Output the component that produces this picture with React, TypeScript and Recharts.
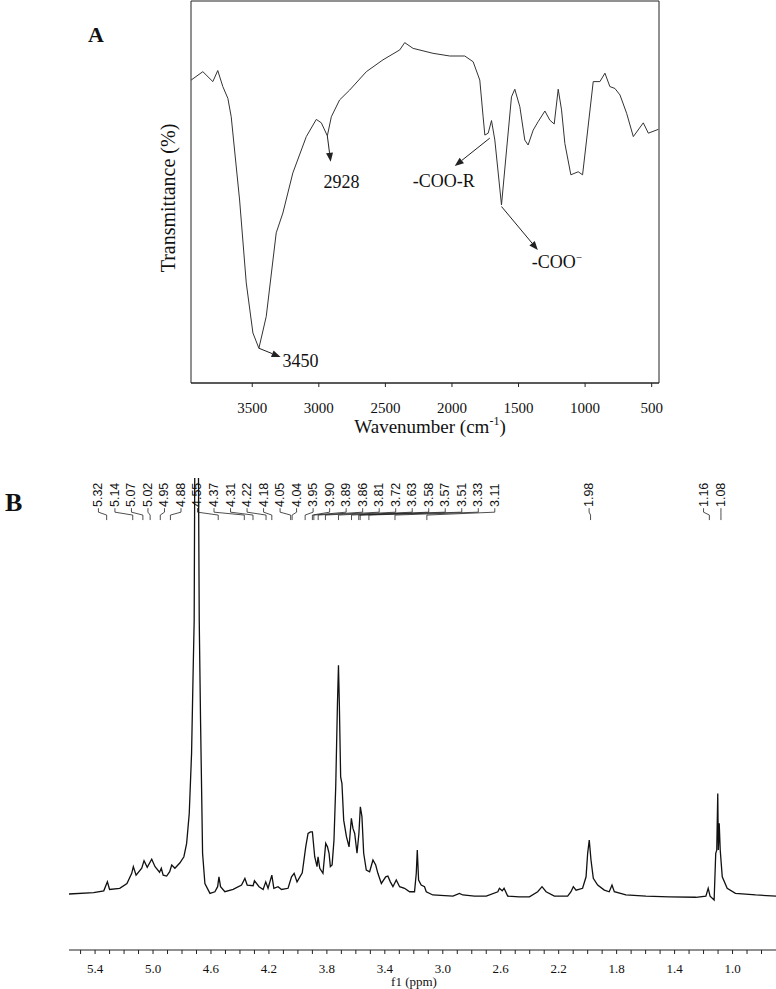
import React from "react";
import { LineChart, Line, XAxis, YAxis, ReferenceArea, ReferenceLine, ReferenceDot } from "recharts";

const serif = '"Liberation Serif", "Times New Roman", serif';
const sans = '"Liberation Sans", Arial, sans-serif';

// ---- panel A: FTIR ----
const ftirWavenumber = [
  3959, 3871, 3796, 3759, 3721, 3683, 3658, 3595, 3545, 3495,
  3450, 3395, 3320, 3270, 3195, 3094, 3019, 2981, 2936, 2906,
  2844, 2768, 2643, 2518, 2392, 2355, 2292, 2142, 2016, 1904,
  1841, 1791, 1766, 1753, 1728, 1703, 1678, 1628, 1590, 1553,
  1528, 1490, 1453, 1428, 1390, 1353, 1302, 1265, 1232, 1202,
  1177, 1152, 1107, 1052, 1019, 989, 939, 889, 851, 814,
  776, 738, 688, 638, 563, 525, 450,
];
const ftirTransmittance = [
  79.3, 81.5, 78.9, 81.8, 77.6, 74.5, 69.7, 47.9, 26.2, 13.1,
  9.1, 17.4, 39.3, 44.5, 55.0, 64.5, 69.0, 68.1, 64.7, 69.7,
  74.1, 76.7, 81.5, 84.6, 87.2, 89.1, 87.6, 86.3, 85.6, 85.6,
  84.1, 79.3, 69.7, 64.9, 65.4, 68.7, 63.6, 46.6, 61.0, 74.9,
  76.9, 72.3, 63.6, 62.3, 66.2, 68.4, 71.2, 68.8, 67.8, 76.9,
  71.5, 62.7, 54.5, 55.3, 54.5, 63.6, 78.9, 78.9, 81.1, 77.6,
  77.1, 75.4, 70.6, 64.5, 68.1, 65.4, 66.4,
];
const ftirTicks = [3500, 3000, 2500, 2000, 1500, 1000, 500];

// annotation arrows (from the band to its label), in axis units
const ftirArrows = [
  { from: [3450, 9.1], to: [3287, 6.8] },
  { from: [2936, 64.7], to: [2911, 57.9] },
  { from: [1716, 64.1], to: [1979, 56.8] },
  { from: [1628, 46.2], to: [1355, 34.8] },
];
const ftirNotes = [
  { text: "3450", sup: "", at: [3272, 4.2], anchor: "start" },
  { text: "2928", sup: "", at: [2829, 51.0], anchor: "middle" },
  { text: "-COO-R", sup: "", at: [2062, 51.3], anchor: "middle" },
  { text: "-COO", sup: "\u2212", at: [1400, 30.1], anchor: "start" },
];

// ---- panel B: 1H NMR ----
const nmrPpm = [
  5.584, 5.41, 5.34, 5.315, 5.3, 5.23, 5.18, 5.147, 5.136, 5.117,
  5.078, 5.062, 5.04, 5.009, 4.986, 4.955, 4.943, 4.93, 4.906, 4.885,
  4.871, 4.849, 4.814, 4.787, 4.768, 4.75, 4.734, 4.723, 4.716, 4.708,
  4.7, 4.692, 4.681, 4.672, 4.658, 4.642, 4.607, 4.573, 4.554, 4.545,
  4.534, 4.504, 4.447, 4.389, 4.366, 4.35, 4.309, 4.3, 4.268, 4.24,
  4.222, 4.206, 4.18, 4.166, 4.137, 4.113, 4.068, 4.044, 4.026, 4.006,
  3.97, 3.946, 3.93, 3.913, 3.9, 3.884, 3.868, 3.861, 3.849, 3.827,
  3.808, 3.796, 3.785, 3.776, 3.764, 3.751, 3.739, 3.727, 3.72, 3.714,
  3.705, 3.696, 3.684, 3.665, 3.647, 3.631, 3.62, 3.608, 3.592, 3.579,
  3.569, 3.558, 3.546, 3.528, 3.505, 3.482, 3.463, 3.448, 3.424, 3.394,
  3.379, 3.362, 3.344, 3.321, 3.298, 3.264, 3.229, 3.195, 3.183, 3.176,
  3.167, 3.149, 3.126, 3.114, 3.069, 2.93, 2.885, 2.862, 2.781, 2.7,
  2.62, 2.609, 2.59, 2.577, 2.552, 2.471, 2.402, 2.345, 2.315, 2.287,
  2.23, 2.138, 2.115, 2.099, 2.08, 2.035, 2.011, 2.0, 1.989, 1.977,
  1.961, 1.931, 1.885, 1.851, 1.832, 1.816, 1.736, 1.598, 1.437, 1.253,
  1.184, 1.168, 1.155, 1.127, 1.116, 1.109, 1.102, 1.098, 1.092, 1.085,
  1.071, 1.037, 0.98, 0.84, 0.7,
];
const nmrIntensity = [
  0.3, 0.9, 1.7, 5.6, 2.3, 2.8, 4.9, 9.3, 12.2, 8.5,
  11.5, 14.8, 11.9, 15.4, 12.2, 9.8, 11.5, 8.5, 8.1, 10.0,
  12.9, 11.5, 13.9, 16.5, 22.3, 35.3, 61.4, 97.5, 119, 250,
  400, 250, 119, 75.8, 18, 4.9, 0.6, 1.3, 3.5, 7.8,
  3.5, 1.3, 2.3, 4.2, 7.1, 4.2, 3.9, 6.1, 3.5, 2.3,
  5.6, 2.8, 8.5, 2.8, 3.5, 2.3, 2.8, 7.8, 9.3, 5.6,
  9.5, 20.8, 26.6, 27.3, 27.3, 16.5, 12.2, 16.5, 11.5, 9.3,
  22.3, 20.8, 18, 12.2, 12.9, 23.7, 46.9, 83.1, 99.7, 83.1,
  51.2, 48.3, 32.4, 25.2, 20.8, 33.2, 28.8, 26.6, 18, 26.6,
  38.2, 33.9, 18, 10.7, 10, 15.1, 12.9, 9.3, 4.9, 7.8,
  8.1, 5.6, 3.5, 6.4, 3.5, 2.8, 1.3, 1.3, 9.3, 19.4,
  6.4, 4.2, 3.5, 1.3, -0.1, -0.6, 0.6, -0.1, -0.6, -0.6,
  1.3, 2.8, 1.7, 2.8, -0.6, -0.9, -0.9, 1.3, 3.5, 1.3,
  -0.6, -0.6, 1.3, 3.5, 2.0, 2.8, 7.8, 18, 23.7, 15.1,
  7.1, 4.2, 2.0, 1.3, 4.2, 1.3, -0.1, -0.6, -0.9, -1.1,
  -0.6, 2.8, -0.6, -2.3, 18, 19.4, 44, 19.4, 31, 19.4,
  7.8, 2.8, 0.6, -0.1, -0.6,
];
const nmrTicks = [
  5.5, 5.4, 5.3, 5.2, 5.1, 5.0, 4.9, 4.8, 4.7, 4.6, 4.5, 4.4, 4.3, 4.2, 4.1, 4.0,
  3.9, 3.8, 3.7, 3.6, 3.5, 3.4, 3.3, 3.2, 3.1, 3.0, 2.9, 2.8, 2.7, 2.6, 2.5, 2.4,
  2.3, 2.2, 2.1, 2.0, 1.9, 1.8, 1.7, 1.6, 1.5, 1.4, 1.3, 1.2, 1.1, 1.0, 0.9, 0.8,
];
const nmrTickLabels = ["5.4", "5.0", "4.6", "4.2", "3.8", "3.4", "3.0", "2.6", "2.2", "1.8", "1.4", "1.0"];

// peak picking labels: a fanned block and three single ones
const nmrFanLabels = [
  "5.32", "5.14", "5.07", "5.02", "4.95", "4.88", "4.55", "4.37", "4.31", "4.22", "4.18", "4.05", "4.04",
  "3.95", "3.90", "3.89", "3.86", "3.81", "3.72", "3.63", "3.58", "3.57", "3.51", "3.33", "3.11",
];
const nmrSingleLabels = ["1.98", "1.16", "1.08"];
const nmrSingleCols = [1.99, 1.2, 1.08];

const ftirData = ftirWavenumber.map((wn, i) => ({ wn, t: ftirTransmittance[i] }));
const nmrData = nmrPpm.map((ppm, i) => ({ ppm, v: nmrIntensity[i] }));

// fan columns: evenly spread along the top, from left to right
const fanStart = 5.377;
const fanStep = 0.114;
const peakLabels = [
  ...nmrFanLabels.map((t, i) => ({ text: t, col: fanStart - i * fanStep, shift: parseFloat(t) })),
  ...nmrSingleLabels.map((t, i) => ({ text: t, col: nmrSingleCols[i], shift: parseFloat(t) })),
];
const LABEL_V = 168.4;
const ELBOW_V = 164.9;

const Arrow = (p: any) => {
  const { x1, y1, x2, y2 } = p;
  const dx = x2 - x1;
  const dy = y2 - y1;
  const len = Math.hypot(dx, dy) || 1;
  const ux = dx / len;
  const uy = dy / len;
  const hl = 9;
  const hw = 3.5;
  const bx = x2 - ux * hl;
  const by = y2 - uy * hl;
  const pts = `${x2},${y2} ${bx - uy * hw},${by + ux * hw} ${bx + uy * hw},${by - ux * hw}`;
  return (
    <g>
      <line x1={x1} y1={y1} x2={bx} y2={by} stroke="#222" strokeWidth={1} />
      <polygon points={pts} fill="#222" />
    </g>
  );
};

const Connector = (p: any) => {
  const { x1, y1, x2, y2 } = p;
  const d = `M${x1},${y1} L${x1},${y1 + 4} L${x2},${y2} L${x2},${y2 + 5}`;
  return <path d={d} fill="none" stroke="#222" strokeWidth={0.8} />;
};

export default function App() {
  return (
    <div style={{ position: "absolute", left: 0, top: 0, width: 776, height: 989, overflow: "hidden", background: "#fff" }}>
      <div style={{ position: "absolute", left: 0, top: 0 }}>
        <LineChart width={776} height={450} data={ftirData} margin={{ top: 1, right: 117, bottom: 0, left: 151 }}>
          <XAxis
            type="number"
            dataKey="wn"
            domain={[445, 3960]}
            reversed
            allowDataOverflow
            ticks={ftirTicks}
            interval={0}
            height={67}
            tickSize={4}
            tickMargin={15}
            stroke="#222"
            tick={{ fontSize: 15, fontFamily: serif, fill: "#111" }}
          />
          <YAxis type="number" domain={[0, 100]} width={40} tick={false} axisLine={false} tickLine={false} allowDataOverflow />
          <ReferenceArea x1={445} x2={3960} y1={0} y2={100} fill="none" stroke="#222" strokeWidth={1} ifOverflow="visible" />
          <Line dataKey="t" type="linear" stroke="#333" strokeWidth={1} dot={false} activeDot={false} isAnimationActive={false} />
          {ftirArrows.map((a, i) => (
            <ReferenceLine
              key={"arr" + i}
              segment={[{ x: a.from[0], y: a.from[1] }, { x: a.to[0], y: a.to[1] }]}
              ifOverflow="visible"
              shape={Arrow}
            />
          ))}
          {ftirNotes.map((n, i) => (
            <ReferenceDot
              key={"note" + i}
              x={n.at[0]}
              y={n.at[1]}
              ifOverflow="visible"
              shape={(p: any) => (
                <text x={p.cx} y={p.cy} textAnchor={n.anchor as any} fontSize={18} fontFamily={serif} fill="#111">
                  {n.text}
                  {n.sup ? (
                    <tspan dy={-7} fontSize={11}>
                      {n.sup}
                    </tspan>
                  ) : null}
                </text>
              )}
            />
          ))}
        </LineChart>
      </div>

      <div style={{ position: "absolute", left: 0, top: 460 }}>
        <LineChart width={776} height={529} data={nmrData} margin={{ top: 18, right: 0, bottom: 0, left: 69 }}>
          <XAxis
            type="number"
            dataKey="ppm"
            domain={[0.7, 5.58]}
            reversed
            allowDataOverflow
            ticks={nmrTicks}
            interval={0}
            height={39}
            tickSize={4}
            tickMargin={10}
            stroke="#222"
            tickFormatter={(v: number) => (nmrTickLabels.includes(v.toFixed(1)) ? v.toFixed(1) : "")}
            tick={{ fontSize: 13, fontFamily: serif, fill: "#111" }}
          />
          <YAxis hide type="number" domain={[-24, 181]} allowDataOverflow />
          <Line dataKey="v" type="linear" stroke="#111" strokeWidth={1.3} dot={false} activeDot={false} isAnimationActive={false} />
          {peakLabels.map((l, i) => (
            <ReferenceLine
              key={"con" + i}
              segment={[{ x: l.col, y: LABEL_V - 0.5 }, { x: l.shift, y: ELBOW_V }]}
              ifOverflow="visible"
              shape={Connector}
            />
          ))}
          {peakLabels.map((l, i) => (
            <ReferenceDot
              key={"lab" + i}
              x={l.col}
              y={LABEL_V}
              ifOverflow="visible"
              shape={(p: any) => (
                <text
                  x={p.cx}
                  y={p.cy}
                  transform={`rotate(-90 ${p.cx} ${p.cy})`}
                  textAnchor="start"
                  dominantBaseline="central"
                  fontSize={12.5}
                  fontFamily={sans}
                  fill="#111"
                >
                  {l.text}
                </text>
              )}
            />
          ))}
        </LineChart>
      </div>

      <svg width={776} height={989} style={{ position: "absolute", left: 0, top: 0, pointerEvents: "none" }}>
        <text x={88} y={42} fontSize={22} fontWeight="bold" fontFamily={serif} fill="#111">A</text>
        <text x={5} y={511} fontSize={26} fontWeight="bold" fontFamily={serif} fill="#111">B</text>
        <text
          x={175}
          y={198}
          transform="rotate(-90 175 198)"
          textAnchor="middle"
          fontSize={20}
          fontFamily={serif}
          fill="#111"
        >
          Transmittance (%)
        </text>
        <text x={430} y={433} textAnchor="middle" fontSize={19} fontFamily={serif} fill="#111">
          Wavenumber (cm<tspan dy={-8} fontSize={12}>-1</tspan><tspan dy={8}>)</tspan>
        </text>
        <text x={414} y={986} textAnchor="middle" fontSize={13} fontFamily={serif} fill="#111">
          f1 (ppm)
        </text>
      </svg>
    </div>
  );
}
